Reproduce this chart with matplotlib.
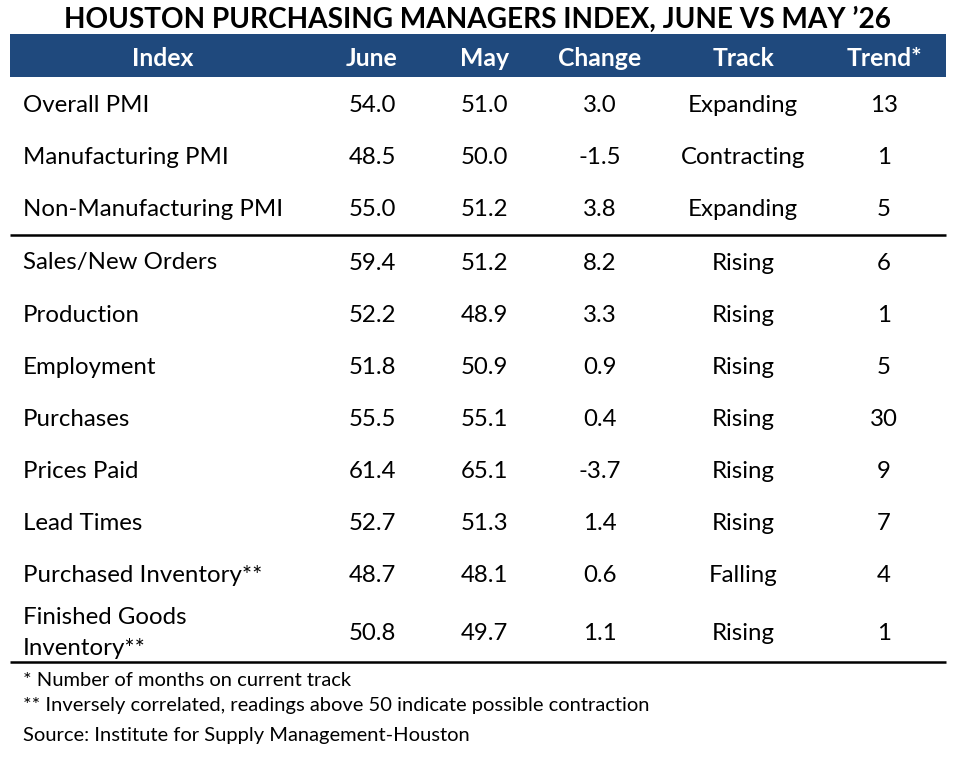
import matplotlib
matplotlib.use("Agg")
import matplotlib.pyplot as plt
from matplotlib.patches import Rectangle

plt.rcParams['font.family'] = ['Lato', 'DejaVu Sans']

title = "HOUSTON PURCHASING MANAGERS INDEX, JUNE VS MAY \u201926"
headers = ["Index", "June", "May", "Change", "Track", "Trend*"]
indexes = ["Overall PMI", "Manufacturing PMI", "Non-Manufacturing PMI",
           "Sales/New Orders", "Production", "Employment", "Purchases",
           "Prices Paid", "Lead Times", "Purchased Inventory**",
           "Finished Goods\nInventory**"]
june = [54.0, 48.5, 55.0, 59.4, 52.2, 51.8, 55.5, 61.4, 52.7, 48.7, 50.8]
may = [51.0, 50.0, 51.2, 51.2, 48.9, 50.9, 55.1, 65.1, 51.3, 48.1, 49.7]
change = [3.0, -1.5, 3.8, 8.2, 3.3, 0.9, 0.4, -3.7, 1.4, 0.6, 1.1]
track = ["Expanding", "Contracting", "Expanding", "Rising", "Rising", "Rising",
         "Rising", "Rising", "Rising", "Falling", "Rising"]
trend = [13, 1, 5, 6, 1, 5, 30, 9, 7, 4, 1]
footnotes = ["* Number of months on current track",
             "** Inversely correlated, readings above 50 indicate possible contraction",
             "Source: Institute for Supply Management-Houston"]

W, H = 955, 757
fig = plt.figure(figsize=(W / 100, H / 100), dpi=100)
ax = fig.add_axes([0, 0, 1, 1])
ax.set_xlim(0, W)
ax.set_ylim(H, 0)
ax.axis('off')

navy = '#1F497D'
fs = 17.3

ax.text(W / 2, 19.5, title, ha='center', va='center', fontsize=20.2,
        fontweight='bold', color='black')
ax.add_patch(Rectangle((10, 34), 936, 43, facecolor=navy, edgecolor='none'))

col_x = [163, 372, 484, 600, 743, 884]
for x, h in zip(col_x, headers):
    ax.text(x, 58, h, ha='center', va='center', fontsize=17.8,
            fontweight='bold', color='white')

row_y = [105, 157, 209, 263, 315, 367, 419, 471, 523, 575, 633]
for i, y in enumerate(row_y):
    ax.text(23, y, indexes[i], ha='left', va='center', fontsize=fs,
            color='black', linespacing=1.55)
    vals = [f"{june[i]:.1f}", f"{may[i]:.1f}", f"{change[i]:.1f}",
            track[i], f"{trend[i]}"]
    for x, v in zip(col_x[1:], vals):
        ax.text(x, y, v, ha='center', va='center', fontsize=fs, color='black')

ax.plot([10, 946], [235, 235], color='black', lw=1.8, solid_capstyle='butt')
ax.plot([10, 946], [662, 662], color='black', lw=1.8, solid_capstyle='butt')

for y, t in zip([680, 706, 735], footnotes):
    ax.text(23, y, t, ha='left', va='center', fontsize=14.5, color='black')

fig.savefig('out.png', dpi=100, facecolor='white')
